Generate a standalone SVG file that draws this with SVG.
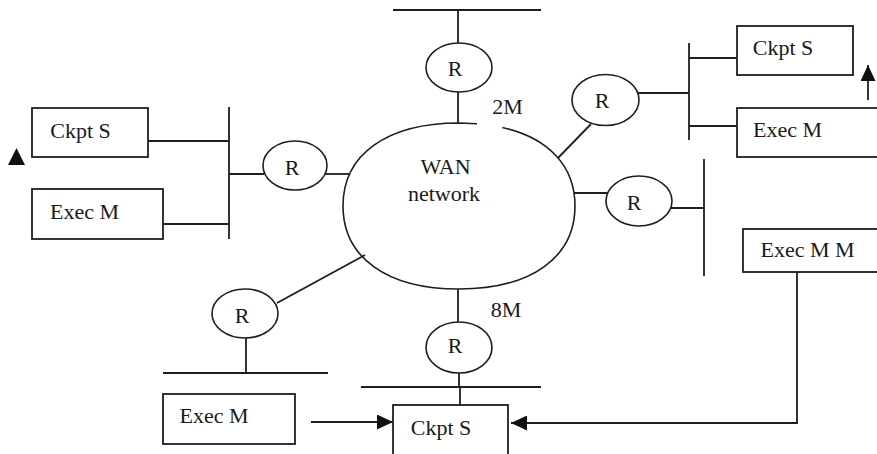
<svg xmlns="http://www.w3.org/2000/svg" width="877" height="454" viewBox="0 0 877 454">
<style>
  .box { fill: #fff; stroke: #1e1e1e; stroke-width: 1.8; }
  .ell { fill: none; stroke: #1e1e1e; stroke-width: 1.6; }
  .ln { fill: none; stroke: #1e1e1e; stroke-width: 1.8; }
  .t { font-family: "Liberation Serif", "Times New Roman", serif; font-size: 22px; fill: #1a1a1a; text-anchor: middle; }
</style>
<defs>
  <marker id="ah" viewBox="0 0 16 15" markerWidth="16" markerHeight="15" refX="16" refY="7.5" orient="auto" markerUnits="userSpaceOnUse">
    <path d="M0,0 L16,7.5 L0,15 z" fill="#111"/>
  </marker>
</defs>
<rect width="877" height="454" fill="#fff"/>

<g id="connectors">
  <!-- buses -->
  <line class="ln" x1="229" y1="107" x2="229" y2="239"/>
  <line class="ln" x1="393" y1="10" x2="541" y2="10"/>
  <line class="ln" x1="689" y1="43" x2="689" y2="140"/>
  <line class="ln" x1="704" y1="159" x2="704" y2="276"/>
  <line class="ln" x1="163" y1="373" x2="328" y2="373"/>
  <line class="ln" x1="361" y1="387" x2="541" y2="387"/>
  <!-- host to bus -->
  <line class="ln" x1="148" y1="141" x2="229" y2="141"/>
  <line class="ln" x1="163" y1="224" x2="229" y2="224"/>
  <line class="ln" x1="689" y1="58" x2="737" y2="58"/>
  <line class="ln" x1="689" y1="126" x2="737" y2="126"/>
  <!-- router links -->
  <line class="ln" x1="229" y1="174" x2="264" y2="174"/>
  <line class="ln" x1="325" y1="174" x2="349" y2="174"/>
  <line class="ln" x1="458" y1="10" x2="458" y2="43"/>
  <line class="ln" x1="458" y1="92" x2="458" y2="123"/>
  <line class="ln" x1="638" y1="93" x2="689" y2="93"/>
  <line class="ln" x1="591" y1="124" x2="558" y2="158"/>
  <line class="ln" x1="574" y1="193" x2="608" y2="193"/>
  <line class="ln" x1="671" y1="208" x2="704" y2="208"/>
  <line class="ln" x1="365" y1="255" x2="277" y2="303"/>
  <line class="ln" x1="246" y1="338" x2="246" y2="373"/>
  <line class="ln" x1="458" y1="289" x2="458" y2="322"/>
  <line class="ln" x1="459" y1="373" x2="459" y2="387"/>
  <line class="ln" x1="460" y1="387" x2="460" y2="405"/>
  <!-- arrows -->
  <line class="ln" x1="311" y1="422" x2="393" y2="422" marker-end="url(#ah)"/>
  <polyline class="ln" points="797,272 797,423 511,423" marker-end="url(#ah)"/>
  <line class="ln" x1="868" y1="100" x2="868" y2="65" marker-end="url(#ah)"/>
  <polygon points="16.5,148 8,165 25,165" fill="#111"/>
  <!-- link labels -->
  <text class="t" x="507.5" y="114">2M</text>
  <text class="t" x="506" y="317">8M</text>
</g>

<g id="wan">
  <path class="ell" d="M502.3,127.5 C548.2,137.8 575,165.8 575,206 C575,257.5 531,289 459,289 C387,289 343,257.5 343,206 C343,154.5 387,123 459,123 L477,123.7"/>
  <text class="t" x="445.5" y="174">WAN</text>
  <text class="t" x="444" y="201">network</text>
</g>

<g id="r-left">
  <ellipse class="ell" cx="295" cy="165.5" rx="32" ry="24.5"/>
  <text class="t" x="292" y="175">R</text>
</g>
<g id="r-top">
  <ellipse class="ell" cx="459" cy="67.5" rx="33" ry="24.5"/>
  <text class="t" x="455" y="76">R</text>
</g>
<g id="r-topright">
  <ellipse class="ell" cx="605.5" cy="100" rx="33.5" ry="25.5"/>
  <text class="t" x="602" y="108">R</text>
</g>
<g id="r-right">
  <ellipse class="ell" cx="639" cy="201" rx="33" ry="25"/>
  <text class="t" x="634" y="210">R</text>
</g>
<g id="r-bottomleft">
  <ellipse class="ell" cx="245" cy="313.5" rx="33" ry="24.5"/>
  <text class="t" x="242" y="323">R</text>
</g>
<g id="r-bottom">
  <ellipse class="ell" cx="459" cy="347.5" rx="33" ry="25.5"/>
  <text class="t" x="455" y="353">R</text>
</g>

<g id="ckpt-left">
  <rect class="box" x="32" y="108" width="116" height="49"/>
  <text class="t" x="80.5" y="138">Ckpt S</text>
</g>
<g id="exec-left">
  <rect class="box" x="32" y="189" width="131" height="50"/>
  <text class="t" x="84.5" y="219">Exec M</text>
</g>
<g id="ckpt-topright">
  <rect class="box" x="737" y="26" width="116" height="49"/>
  <text class="t" x="783" y="55">Ckpt S</text>
</g>
<g id="exec-topright">
  <rect class="box" x="737" y="108" width="150" height="49"/>
  <text class="t" x="787.5" y="137">Exec M</text>
</g>
<g id="exec-mm">
  <rect class="box" x="743" y="229" width="150" height="43"/>
  <text class="t" x="807.5" y="257">Exec M M</text>
</g>
<g id="exec-bottom">
  <rect class="box" x="163" y="394" width="132" height="50"/>
  <text class="t" x="214" y="423">Exec M</text>
</g>
<g id="ckpt-bottom">
  <rect class="box" x="393" y="405" width="115" height="60"/>
  <text class="t" x="441" y="435">Ckpt S</text>
</g>
</svg>
